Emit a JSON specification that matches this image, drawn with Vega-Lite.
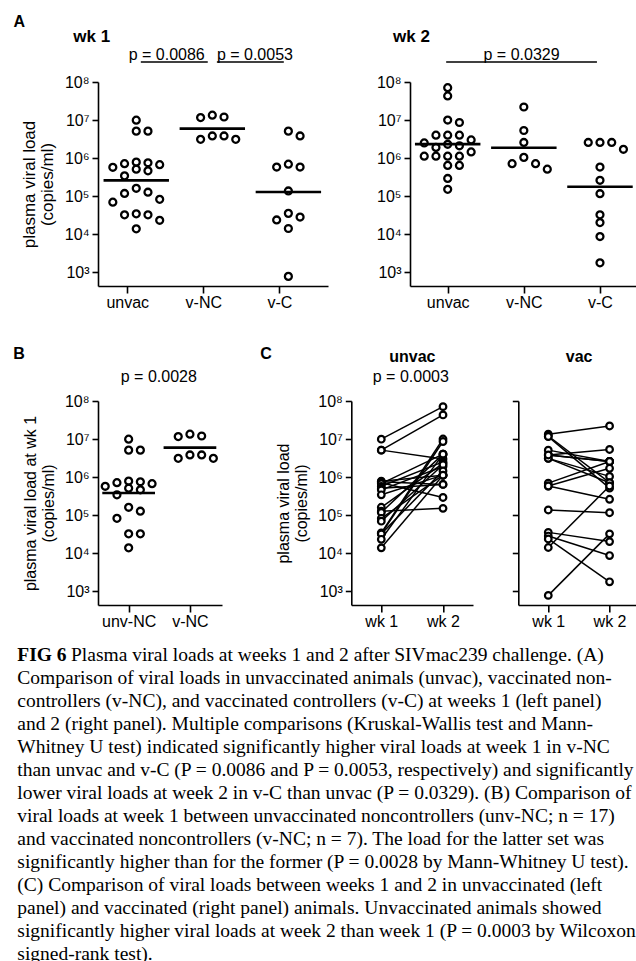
{
  "$schema": "https://vega.github.io/schema/vega-lite/v6.json",
  "padding": {"left": 13, "top": 14, "right": 0, "bottom": 0},
  "background": "white",
  "datasets": {
    "animals": [
      {"id": "u1", "arm": "unvac", "grp": "unvac", "ctrl": "NC", "wk1": 9900000, "wk2": 71000000},
      {"id": "u2", "arm": "unvac", "grp": "unvac", "ctrl": "NC", "wk1": 5100000, "wk2": 43000000},
      {"id": "u3", "arm": "unvac", "grp": "unvac", "ctrl": "NC", "wk1": 5100000, "wk2": 3000000},
      {"id": "u4", "arm": "unvac", "grp": "unvac", "ctrl": "NC", "wk1": 780000, "wk2": 1120000},
      {"id": "u5", "arm": "unvac", "grp": "unvac", "ctrl": "NC", "wk1": 750000, "wk2": 640000},
      {"id": "u6", "arm": "unvac", "grp": "unvac", "ctrl": "NC", "wk1": 710000, "wk2": 290000},
      {"id": "u7", "arm": "unvac", "grp": "unvac", "ctrl": "NC", "wk1": 670000, "wk2": 4000000},
      {"id": "u8", "arm": "unvac", "grp": "unvac", "ctrl": "NC", "wk1": 570000, "wk2": 2500000},
      {"id": "u9", "arm": "unvac", "grp": "unvac", "ctrl": "NC", "wk1": 510000, "wk2": 640000},
      {"id": "u10", "arm": "unvac", "grp": "unvac", "ctrl": "NC", "wk1": 460000, "wk2": 1900000},
      {"id": "u11", "arm": "unvac", "grp": "unvac", "ctrl": "NC", "wk1": 340000, "wk2": 1120000},
      {"id": "u12", "arm": "unvac", "grp": "unvac", "ctrl": "NC", "wk1": 160000, "wk2": 2300000},
      {"id": "u13", "arm": "unvac", "grp": "unvac", "ctrl": "NC", "wk1": 126000, "wk2": 150000},
      {"id": "u14", "arm": "unvac", "grp": "unvac", "ctrl": "C", "wk1": 117000, "wk2": 4000000},
      {"id": "u15", "arm": "unvac", "grp": "unvac", "ctrl": "NC", "wk1": 82000, "wk2": 1120000},
      {"id": "u16", "arm": "unvac", "grp": "unvac", "ctrl": "C", "wk1": 69000, "wk2": 2100000},
      {"id": "u17", "arm": "unvac", "grp": "unvac", "ctrl": "C", "wk1": 34000, "wk2": 10000000},
      {"id": "u18", "arm": "unvac", "grp": "unvac", "ctrl": "NC", "wk1": 32000, "wk2": 8600000},
      {"id": "u19", "arm": "unvac", "grp": "unvac", "ctrl": "NC", "wk1": 32000, "wk2": 1450000},
      {"id": "u20", "arm": "unvac", "grp": "unvac", "ctrl": "C", "wk1": 23000, "wk2": 4000000},
      {"id": "u21", "arm": "unvac", "grp": "unvac", "ctrl": "NC", "wk1": 13700, "wk2": 1120000},
      {"id": "v1", "arm": "vac", "grp": "v-NC", "ctrl": "NC", "wk1": 13400000, "wk2": 22000000},
      {"id": "v2", "arm": "vac", "grp": "v-NC", "ctrl": "NC", "wk1": 12000000, "wk2": 710000},
      {"id": "v3", "arm": "vac", "grp": "v-NC", "ctrl": "NC", "wk1": 11600000, "wk2": 510000},
      {"id": "v4", "arm": "vac", "grp": "v-NC", "ctrl": "NC", "wk1": 3800000, "wk2": 2570000},
      {"id": "v5", "arm": "vac", "grp": "v-NC", "ctrl": "NC", "wk1": 3800000, "wk2": 5300000},
      {"id": "v6", "arm": "vac", "grp": "v-NC", "ctrl": "NC", "wk1": 3100000, "wk2": 1040000},
      {"id": "v7", "arm": "vac", "grp": "v-NC", "ctrl": "NC", "wk1": 3100000, "wk2": 710000},
      {"id": "v8", "arm": "vac", "grp": "v-C", "ctrl": "C", "wk1": 5100000, "wk2": 2570000},
      {"id": "v9", "arm": "vac", "grp": "v-C", "ctrl": "C", "wk1": 3800000, "wk2": 2570000},
      {"id": "v10", "arm": "vac", "grp": "v-C", "ctrl": "C", "wk1": 690000, "wk2": 2570000},
      {"id": "v11", "arm": "vac", "grp": "v-C", "ctrl": "C", "wk1": 580000, "wk2": 1700000},
      {"id": "v12", "arm": "vac", "grp": "v-C", "ctrl": "C", "wk1": 580000, "wk2": 260000},
      {"id": "v13", "arm": "vac", "grp": "v-C", "ctrl": "C", "wk1": 136000, "wk2": 115000},
      {"id": "v14", "arm": "vac", "grp": "v-C", "ctrl": "C", "wk1": 35000, "wk2": 20000},
      {"id": "v15", "arm": "vac", "grp": "v-C", "ctrl": "C", "wk1": 28000, "wk2": 8600},
      {"id": "v16", "arm": "vac", "grp": "v-C", "ctrl": "C", "wk1": 23500, "wk2": 1750},
      {"id": "v17", "arm": "vac", "grp": "v-C", "ctrl": "C", "wk1": 14000, "wk2": 580000},
      {"id": "v18", "arm": "vac", "grp": "v-C", "ctrl": "C", "wk1": 770, "wk2": 32000}
    ],
    "pvals": [
      {"panel": "wk1", "from": "unvac", "to": "v-NC", "p": "p = 0.0086"},
      {"panel": "wk1", "from": "v-NC", "to": "v-C", "p": "p = 0.0053"},
      {"panel": "wk2", "from": "unvac", "to": "v-C", "p": "p = 0.0329"}
    ],
    "headings": [
      {"key": "A", "label": "A"},
      {"key": "wk1", "label": "wk 1"},
      {"key": "wk2", "label": "wk 2"},
      {"key": "B", "label": "B"},
      {"key": "pB", "label": "p = 0.0028"},
      {"key": "C", "label": "C"},
      {"key": "unvac", "label": "unvac"},
      {"key": "pC", "label": "p = 0.0003"},
      {"key": "vac", "label": "vac"}
    ],
    "caption": [
      {"n": 1, "lead": "FIG 6", "t": "Plasma viral loads at weeks 1 and 2 after SIVmac239 challenge. (A)"},
      {"n": 2, "t": "Comparison of viral loads in unvaccinated animals (unvac), vaccinated non-"},
      {"n": 3, "t": "controllers (v-NC), and vaccinated controllers (v-C) at weeks 1 (left panel)"},
      {"n": 4, "t": "and 2 (right panel). Multiple comparisons (Kruskal-Wallis test and Mann-"},
      {"n": 5, "t": "Whitney U test) indicated significantly higher viral loads at week 1 in v-NC"},
      {"n": 6, "t": "than unvac and v-C (P = 0.0086 and P = 0.0053, respectively) and significantly"},
      {"n": 7, "t": "lower viral loads at week 2 in v-C than unvac (P = 0.0329). (B) Comparison of"},
      {"n": 8, "t": "viral loads at week 1 between unvaccinated noncontrollers (unv-NC; n = 17)"},
      {"n": 9, "t": "and vaccinated noncontrollers (v-NC; n = 7). The load for the latter set was"},
      {"n": 10, "t": "significantly higher than for the former (P = 0.0028 by Mann-Whitney U test)."},
      {"n": 11, "t": "(C) Comparison of viral loads between weeks 1 and 2 in unvaccinated (left"},
      {"n": 12, "t": "panel) and vaccinated (right panel) animals. Unvaccinated animals showed"},
      {"n": 13, "t": "significantly higher viral loads at week 2 than week 1 (P = 0.0003 by Wilcoxon"},
      {"n": 14, "t": "signed-rank test)."}
    ]
  },
  "vconcat": [
    {
      "vconcat": [
        {
          "hconcat": [
            {
              "width": 230,
              "height": 204,
              "data": {"name": "animals"},
              "layer": [
                {
                  "transform": [
                    {"calculate": "datum.wk1", "as": "v"},
                    {"calculate": "log(datum.v) / LN10", "as": "lv"},
                    {"calculate": "indexof(['unvac', 'v-NC', 'v-C'], datum.grp)", "as": "gi"},
                    {"window": [{"op": "lag", "field": "lv", "as": "prev"}], "groupby": ["grp"], "sort": [{"field": "lv", "order": "descending"}]},
                    {"calculate": "datum.prev == null || datum.prev - datum.lv > 0.2 ? 1 : 0", "as": "brk"},
                    {"window": [{"op": "sum", "field": "brk", "as": "cl"}], "groupby": ["grp"], "sort": [{"field": "lv", "order": "descending"}], "frame": [null, 0]},
                    {"window": [{"op": "row_number", "as": "k"}], "groupby": ["grp", "cl"], "sort": [{"field": "lv", "order": "descending"}]},
                    {"calculate": "[0, 1, -1, 2, -2][(datum.k - 1) % 5]", "as": "slot"},
                    {"calculate": "datum.gi + 0.154 * datum.slot", "as": "xs"}
                  ],
                  "mark": {"type": "point", "shape": "circle", "filled": false, "stroke": "black", "strokeWidth": 2.3, "size": 48, "opacity": 1},
                  "encoding": {
                    "x": {"field": "xs", "type": "quantitative", "scale": {"domain": [-0.503, 2.521], "nice": false, "zero": false},
                      "axis": {"values": [0, 1, 2], "labelExpr": "['unvac', 'v-NC', 'v-C'][datum.value]", "title": null, "tickOffset": -9}},
                    "y": {"field": "v", "type": "quantitative", "scale": {"type": "log", "domain": [430, 100000000], "nice": false},
                      "axis": {"values": [1000, 10000, 100000, 1000000, 10000000, 100000000], "labelExpr": "'10' + ['⁰','¹','²','³','⁴','⁵','⁶','⁷','⁸'][round(log(datum.value) / LN10)]", "title": ["plasma viral load", "(copies/ml)"], "titleLineHeight": 18, "titlePadding": 8}}
                  }
                },
                {
                  "transform": [
                    {"calculate": "log(datum.wk1) / LN10", "as": "lv"},
                    {"aggregate": [{"op": "mean", "field": "lv", "as": "mlv"}], "groupby": ["grp"]},
                    {"calculate": "pow(10, datum.mlv)", "as": "gm"},
                    {"calculate": "indexof(['unvac', 'v-NC', 'v-C'], datum.grp)", "as": "gi"},
                    {"calculate": "datum.gi - 0.43", "as": "x0"},
                    {"calculate": "datum.gi + 0.43", "as": "x1"}
                  ],
                  "mark": {"type": "rule", "stroke": "black", "strokeWidth": 2.6},
                  "encoding": {
                    "x": {"field": "x0", "type": "quantitative", "scale": {"domain": [-0.503, 2.521], "nice": false, "zero": false}},
                    "x2": {"field": "x1"},
                    "y": {"field": "gm", "type": "quantitative", "scale": {"type": "log", "domain": [430, 100000000], "nice": false}}
                  }
                },
                {
                  "data": {"name": "pvals"},
                  "transform": [
                    {"filter": "datum.panel == 'wk1'"},
                    {"calculate": "indexof(['unvac', 'v-NC', 'v-C'], datum.from) + 0.06", "as": "xa"},
                    {"calculate": "indexof(['unvac', 'v-NC', 'v-C'], datum.to) - 0.06", "as": "xb"}
                  ],
                  "layer": [
                    {
                      "mark": {"type": "rule", "stroke": "black", "strokeWidth": 1.4},
                      "encoding": {
                        "x": {"field": "xa", "type": "quantitative", "scale": {"domain": [-0.503, 2.521], "nice": false, "zero": false}},
                        "x2": {"field": "xb"},
                        "y": {"datum": 336000000, "type": "quantitative", "scale": {"type": "log", "domain": [430, 100000000], "nice": false}}
                      }
                    },
                    {
                      "transform": [{"filter": "datum.from == 'unvac'"}],
                      "mark": {"type": "text", "font": "Liberation Sans", "fontSize": 16, "color": "black", "align": "right", "baseline": "alphabetic", "dy": -2, "dx": -3},
                      "encoding": {
                        "x": {"field": "xb", "type": "quantitative", "scale": {"domain": [-0.503, 2.521], "nice": false, "zero": false}},
                        "y": {"datum": 336000000, "type": "quantitative", "scale": {"type": "log", "domain": [430, 100000000], "nice": false}},
                        "text": {"field": "p"}
                      }
                    },
                    {
                      "transform": [{"filter": "datum.from == 'v-NC'"}],
                      "mark": {"type": "text", "font": "Liberation Sans", "fontSize": 16, "color": "black", "align": "left", "baseline": "alphabetic", "dy": -2},
                      "encoding": {
                        "x": {"field": "xa", "type": "quantitative", "scale": {"domain": [-0.503, 2.521], "nice": false, "zero": false}},
                        "y": {"datum": 336000000, "type": "quantitative", "scale": {"type": "log", "domain": [430, 100000000], "nice": false}},
                        "text": {"field": "p"}
                      }
                    }
                  ]
                },
                {
                  "data": {"name": "headings"},
                  "transform": [{"filter": "datum.key == 'A'"}],
                  "mark": {"type": "text", "font": "Liberation Sans", "fontSize": 16, "fontWeight": "bold", "color": "black", "align": "left", "baseline": "alphabetic"},
                  "encoding": {
                    "x": {"datum": -1.615, "type": "quantitative", "scale": {"domain": [-0.503, 2.521], "nice": false, "zero": false}},
                    "y": {"datum": 2750000000, "type": "quantitative", "scale": {"type": "log", "domain": [430, 100000000], "nice": false}},
                    "text": {"field": "label"}
                  }
                },
                {
                  "data": {"name": "headings"},
                  "transform": [{"filter": "datum.key == 'wk1'"}],
                  "mark": {"type": "text", "font": "Liberation Sans", "fontSize": 17, "fontWeight": "bold", "color": "black", "align": "left", "baseline": "alphabetic"},
                  "encoding": {
                    "x": {"datum": -0.827, "type": "quantitative", "scale": {"domain": [-0.503, 2.521], "nice": false, "zero": false}},
                    "y": {"datum": 1110000000, "type": "quantitative", "scale": {"type": "log", "domain": [430, 100000000], "nice": false}},
                    "text": {"field": "label"}
                  }
                }
              ]
            },
            {
              "width": 226,
              "height": 204,
              "data": {"name": "animals"},
              "layer": [
                {
                  "transform": [
                    {"calculate": "datum.wk2", "as": "v"},
                    {"calculate": "log(datum.v) / LN10", "as": "lv"},
                    {"calculate": "indexof(['unvac', 'v-NC', 'v-C'], datum.grp)", "as": "gi"},
                    {"window": [{"op": "lag", "field": "lv", "as": "prev"}], "groupby": ["grp"], "sort": [{"field": "lv", "order": "descending"}]},
                    {"calculate": "datum.prev == null || datum.prev - datum.lv > 0.2 ? 1 : 0", "as": "brk"},
                    {"window": [{"op": "sum", "field": "brk", "as": "cl"}], "groupby": ["grp"], "sort": [{"field": "lv", "order": "descending"}], "frame": [null, 0]},
                    {"window": [{"op": "row_number", "as": "k"}], "groupby": ["grp", "cl"], "sort": [{"field": "lv", "order": "descending"}]},
                    {"calculate": "[0, 1, -1, 2, -2][(datum.k - 1) % 5]", "as": "slot"},
                    {"calculate": "datum.gi + 0.154 * datum.slot", "as": "xs"}
                  ],
                  "mark": {"type": "point", "shape": "circle", "filled": false, "stroke": "black", "strokeWidth": 2.3, "size": 48, "opacity": 1},
                  "encoding": {
                    "x": {"field": "xs", "type": "quantitative", "scale": {"domain": [-0.495, 2.473], "nice": false, "zero": false},
                      "axis": {"values": [0, 1, 2], "labelExpr": "['unvac', 'v-NC', 'v-C'][datum.value]", "title": null}},
                    "y": {"field": "v", "type": "quantitative", "scale": {"type": "log", "domain": [430, 100000000], "nice": false},
                      "axis": {"values": [1000, 10000, 100000, 1000000, 10000000, 100000000], "labelExpr": "'10' + ['⁰','¹','²','³','⁴','⁵','⁶','⁷','⁸'][round(log(datum.value) / LN10)]", "title": null}}
                  }
                },
                {
                  "transform": [
                    {"calculate": "log(datum.wk2) / LN10", "as": "lv"},
                    {"aggregate": [{"op": "mean", "field": "lv", "as": "mlv"}], "groupby": ["grp"]},
                    {"calculate": "pow(10, datum.mlv)", "as": "gm"},
                    {"calculate": "indexof(['unvac', 'v-NC', 'v-C'], datum.grp)", "as": "gi"},
                    {"calculate": "datum.gi - 0.43", "as": "x0"},
                    {"calculate": "datum.gi + 0.43", "as": "x1"}
                  ],
                  "mark": {"type": "rule", "stroke": "black", "strokeWidth": 2.6},
                  "encoding": {
                    "x": {"field": "x0", "type": "quantitative", "scale": {"domain": [-0.495, 2.473], "nice": false, "zero": false}},
                    "x2": {"field": "x1"},
                    "y": {"field": "gm", "type": "quantitative", "scale": {"type": "log", "domain": [430, 100000000], "nice": false}}
                  }
                },
                {
                  "data": {"name": "pvals"},
                  "transform": [
                    {"filter": "datum.panel == 'wk2'"},
                    {"calculate": "indexof(['unvac', 'v-NC', 'v-C'], datum.from) - 0.02", "as": "xa"},
                    {"calculate": "indexof(['unvac', 'v-NC', 'v-C'], datum.to) - 0.04", "as": "xb"},
                    {"calculate": "(datum.xa + datum.xb) / 2", "as": "xm"}
                  ],
                  "layer": [
                    {
                      "mark": {"type": "rule", "stroke": "black", "strokeWidth": 1.4},
                      "encoding": {
                        "x": {"field": "xa", "type": "quantitative", "scale": {"domain": [-0.495, 2.473], "nice": false, "zero": false}},
                        "x2": {"field": "xb"},
                        "y": {"datum": 336000000, "type": "quantitative", "scale": {"type": "log", "domain": [430, 100000000], "nice": false}}
                      }
                    },
                    {
                      "mark": {"type": "text", "font": "Liberation Sans", "fontSize": 16, "color": "black", "align": "center", "baseline": "alphabetic", "dy": -2},
                      "encoding": {
                        "x": {"field": "xm", "type": "quantitative", "scale": {"domain": [-0.495, 2.473], "nice": false, "zero": false}},
                        "y": {"datum": 336000000, "type": "quantitative", "scale": {"type": "log", "domain": [430, 100000000], "nice": false}},
                        "text": {"field": "p"}
                      }
                    }
                  ]
                },
                {
                  "data": {"name": "headings"},
                  "transform": [{"filter": "datum.key == 'wk2'"}],
                  "mark": {"type": "text", "font": "Liberation Sans", "fontSize": 17, "fontWeight": "bold", "color": "black", "align": "left", "baseline": "alphabetic"},
                  "encoding": {
                    "x": {"datum": -0.718, "type": "quantitative", "scale": {"domain": [-0.495, 2.473], "nice": false, "zero": false}},
                    "y": {"datum": 1110000000, "type": "quantitative", "scale": {"type": "log", "domain": [430, 100000000], "nice": false}},
                    "text": {"field": "label"}
                  }
                }
              ]
            }
          ],
          "spacing": 82,
          "bounds": "flush"
        },
        {
          "hconcat": [
            {
              "width": 124,
              "height": 204,
              "data": {"name": "animals"},
              "transform": [{"filter": "datum.ctrl == 'NC'"}],
              "layer": [
                {
                  "transform": [
                    {"calculate": "datum.wk1", "as": "v"},
                    {"calculate": "log(datum.v) / LN10", "as": "lv"},
                    {"calculate": "datum.arm == 'unvac' ? 0 : 1", "as": "gi"},
                    {"window": [{"op": "lag", "field": "lv", "as": "prev"}], "groupby": ["arm"], "sort": [{"field": "lv", "order": "descending"}]},
                    {"calculate": "datum.prev == null || datum.prev - datum.lv > 0.2 ? 1 : 0", "as": "brk"},
                    {"window": [{"op": "sum", "field": "brk", "as": "cl"}], "groupby": ["arm"], "sort": [{"field": "lv", "order": "descending"}], "frame": [null, 0]},
                    {"window": [{"op": "row_number", "as": "k"}], "groupby": ["arm", "cl"], "sort": [{"field": "lv", "order": "descending"}]},
                    {"calculate": "[0, 1, -1, 2, -2][(datum.k - 1) % 5]", "as": "slot"},
                    {"calculate": "datum.gi + 0.191 * datum.slot", "as": "xs"}
                  ],
                  "mark": {"type": "point", "shape": "circle", "filled": false, "stroke": "black", "strokeWidth": 2.3, "size": 48, "opacity": 1},
                  "encoding": {
                    "x": {"field": "xs", "type": "quantitative", "scale": {"domain": [-0.5, 1.523], "nice": false, "zero": false},
                      "axis": {"values": [0, 1], "labelExpr": "['unv-NC', 'v-NC'][datum.value]", "title": null}},
                    "y": {"field": "v", "type": "quantitative", "scale": {"type": "log", "domain": [430, 100000000], "nice": false},
                      "axis": {"values": [1000, 10000, 100000, 1000000, 10000000, 100000000], "labelExpr": "'10' + ['⁰','¹','²','³','⁴','⁵','⁶','⁷','⁸'][round(log(datum.value) / LN10)]", "title": ["plasma viral load at wk 1", "(copies/ml)"], "titleFontSize": 16, "titleLineHeight": 18, "titlePadding": 8}}
                  }
                },
                {
                  "transform": [
                    {"calculate": "log(datum.wk1) / LN10", "as": "lv"},
                    {"aggregate": [{"op": "mean", "field": "lv", "as": "mlv"}], "groupby": ["arm"]},
                    {"calculate": "pow(10, datum.mlv)", "as": "gm"},
                    {"calculate": "datum.arm == 'unvac' ? 0 : 1", "as": "gi"},
                    {"calculate": "datum.gi - 0.43", "as": "x0"},
                    {"calculate": "datum.gi + 0.43", "as": "x1"}
                  ],
                  "mark": {"type": "rule", "stroke": "black", "strokeWidth": 2.6},
                  "encoding": {
                    "x": {"field": "x0", "type": "quantitative", "scale": {"domain": [-0.5, 1.523], "nice": false, "zero": false}},
                    "x2": {"field": "x1"},
                    "y": {"field": "gm", "type": "quantitative", "scale": {"type": "log", "domain": [430, 100000000], "nice": false}}
                  }
                },
                {
                  "data": {"name": "headings"},
                  "transform": [{"filter": "datum.key == 'B'"}],
                  "mark": {"type": "text", "font": "Liberation Sans", "fontSize": 16, "fontWeight": "bold", "color": "black", "align": "left", "baseline": "alphabetic"},
                  "encoding": {
                    "x": {"datum": -1.882, "type": "quantitative", "scale": {"domain": [-0.5, 1.523], "nice": false, "zero": false}},
                    "y": {"datum": 1310000000, "type": "quantitative", "scale": {"type": "log", "domain": [430, 100000000], "nice": false}},
                    "text": {"field": "label"}
                  }
                },
                {
                  "data": {"name": "headings"},
                  "transform": [{"filter": "datum.key == 'pB'"}],
                  "mark": {"type": "text", "font": "Liberation Sans", "fontSize": 16, "color": "black", "align": "center", "baseline": "alphabetic"},
                  "encoding": {
                    "x": {"datum": 0.492, "type": "quantitative", "scale": {"domain": [-0.5, 1.523], "nice": false, "zero": false}},
                    "y": {"datum": 307000000, "type": "quantitative", "scale": {"type": "log", "domain": [430, 100000000], "nice": false}},
                    "text": {"field": "label"}
                  }
                }
              ]
            },
            {
              "hconcat": [
                {
                  "width": 121.7,
                  "height": 204,
                  "data": {"name": "animals"},
                  "transform": [
                    {"filter": "datum.arm == 'unvac'"},
                    {"fold": ["wk1", "wk2"], "as": ["week", "v"]},
                    {"calculate": "datum.week == 'wk1' ? 1 : 2", "as": "wk"}
                  ],
                  "layer": [
                    {
                      "mark": {"type": "line", "stroke": "black", "strokeWidth": 1.5},
                      "encoding": {
                        "x": {"field": "wk", "type": "quantitative", "scale": {"domain": [0.514, 2.486], "nice": false, "zero": false},
                          "axis": {"values": [1, 2], "labelExpr": "'wk ' + datum.value", "title": null}},
                        "y": {"field": "v", "type": "quantitative", "scale": {"type": "log", "domain": [430, 100000000], "nice": false},
                          "axis": {"values": [1000, 10000, 100000, 1000000, 10000000, 100000000], "labelExpr": "'10' + ['⁰','¹','²','³','⁴','⁵','⁶','⁷','⁸'][round(log(datum.value) / LN10)]", "title": ["plasma viral load", "(copies/ml)"], "titleFontSize": 16, "titleLineHeight": 18, "titlePadding": 8}},
                        "detail": {"field": "id"}
                      }
                    },
                    {
                      "mark": {"type": "point", "shape": "circle", "filled": true, "fill": "white", "stroke": "black", "strokeWidth": 2.2, "size": 44, "opacity": 1},
                      "encoding": {
                        "x": {"field": "wk", "type": "quantitative", "scale": {"domain": [0.514, 2.486], "nice": false, "zero": false}},
                        "y": {"field": "v", "type": "quantitative", "scale": {"type": "log", "domain": [430, 100000000], "nice": false}}
                      }
                    },
                    {
                      "data": {"name": "headings"},
                      "transform": [{"filter": "datum.key == 'C'"}],
                      "mark": {"type": "text", "font": "Liberation Sans", "fontSize": 16, "fontWeight": "bold", "color": "black", "align": "left", "baseline": "alphabetic"},
                      "encoding": {
                        "x": {"datum": -0.961, "type": "quantitative", "scale": {"domain": [0.514, 2.486], "nice": false, "zero": false}},
                        "y": {"datum": 1310000000, "type": "quantitative", "scale": {"type": "log", "domain": [430, 100000000], "nice": false}},
                        "text": {"field": "label"}
                      }
                    },
                    {
                      "data": {"name": "headings"},
                      "transform": [{"filter": "datum.key == 'unvac'"}],
                      "mark": {"type": "text", "font": "Liberation Sans", "fontSize": 16, "fontWeight": "bold", "color": "black", "align": "center", "baseline": "alphabetic"},
                      "encoding": {
                        "x": {"datum": 1.503, "type": "quantitative", "scale": {"domain": [0.514, 2.486], "nice": false, "zero": false}},
                        "y": {"datum": 1030000000, "type": "quantitative", "scale": {"type": "log", "domain": [430, 100000000], "nice": false}},
                        "text": {"field": "label"}
                      }
                    },
                    {
                      "data": {"name": "headings"},
                      "transform": [{"filter": "datum.key == 'pC'"}],
                      "mark": {"type": "text", "font": "Liberation Sans", "fontSize": 16, "color": "black", "align": "center", "baseline": "alphabetic"},
                      "encoding": {
                        "x": {"datum": 1.478, "type": "quantitative", "scale": {"domain": [0.514, 2.486], "nice": false, "zero": false}},
                        "y": {"datum": 307000000, "type": "quantitative", "scale": {"type": "log", "domain": [430, 100000000], "nice": false}},
                        "text": {"field": "label"}
                      }
                    }
                  ]
                },
                {
                  "width": 118.3,
                  "height": 204,
                  "data": {"name": "animals"},
                  "transform": [
                    {"filter": "datum.arm == 'vac'"},
                    {"fold": ["wk1", "wk2"], "as": ["week", "v"]},
                    {"calculate": "datum.week == 'wk1' ? 1 : 2", "as": "wk"}
                  ],
                  "layer": [
                    {
                      "mark": {"type": "line", "stroke": "black", "strokeWidth": 1.5},
                      "encoding": {
                        "x": {"field": "wk", "type": "quantitative", "scale": {"domain": [0.511, 2.441], "nice": false, "zero": false},
                          "axis": {"values": [1, 2], "labelExpr": "'wk ' + datum.value", "title": null}},
                        "y": {"field": "v", "type": "quantitative", "scale": {"type": "log", "domain": [430, 100000000], "nice": false},
                          "axis": {"values": [1000, 10000, 100000, 1000000, 10000000, 100000000], "labels": false, "title": null}},
                        "detail": {"field": "id"}
                      }
                    },
                    {
                      "mark": {"type": "point", "shape": "circle", "filled": true, "fill": "white", "stroke": "black", "strokeWidth": 2.2, "size": 44, "opacity": 1},
                      "encoding": {
                        "x": {"field": "wk", "type": "quantitative", "scale": {"domain": [0.511, 2.441], "nice": false, "zero": false}},
                        "y": {"field": "v", "type": "quantitative", "scale": {"type": "log", "domain": [430, 100000000], "nice": false}}
                      }
                    },
                    {
                      "data": {"name": "headings"},
                      "transform": [{"filter": "datum.key == 'vac'"}],
                      "mark": {"type": "text", "font": "Liberation Sans", "fontSize": 16, "fontWeight": "bold", "color": "black", "align": "center", "baseline": "alphabetic"},
                      "encoding": {
                        "x": {"datum": 1.503, "type": "quantitative", "scale": {"domain": [0.511, 2.441], "nice": false, "zero": false}},
                        "y": {"datum": 1030000000, "type": "quantitative", "scale": {"type": "log", "domain": [430, 100000000], "nice": false}},
                        "text": {"field": "label"}
                      }
                    }
                  ]
                }
              ],
              "spacing": 45,
              "bounds": "flush"
            }
          ],
          "spacing": 129.3,
          "bounds": "flush"
        }
      ],
      "spacing": 35
    },
    {
      "width": 600,
      "height": 299,
      "data": {"name": "caption"},
      "layer": [
        {
          "transform": [{"filter": "datum.n > 1"}],
          "mark": {"type": "text", "font": "Liberation Serif", "fontSize": 19.5, "color": "black", "align": "left", "baseline": "alphabetic", "dx": -80.7},
          "encoding": {
            "x": {"datum": 0, "type": "quantitative", "scale": {"domain": [0, 1], "nice": false, "zero": false}, "axis": null},
            "y": {"field": "n", "type": "quantitative", "scale": {"domain": [1, 14], "reverse": true, "nice": false, "zero": false}, "axis": null},
            "text": {"field": "t"}
          }
        },
        {
          "transform": [{"filter": "datum.n == 1"}],
          "mark": {"type": "text", "font": "Liberation Serif", "fontSize": 19.5, "color": "black", "align": "left", "baseline": "alphabetic", "dx": -27},
          "encoding": {
            "x": {"datum": 0, "type": "quantitative", "scale": {"domain": [0, 1], "nice": false, "zero": false}, "axis": null},
            "y": {"field": "n", "type": "quantitative", "scale": {"domain": [1, 14], "reverse": true, "nice": false, "zero": false}, "axis": null},
            "text": {"field": "t"}
          }
        },
        {
          "transform": [{"filter": "datum.n == 1"}],
          "mark": {"type": "text", "font": "Liberation Serif", "fontSize": 19.5, "fontWeight": "bold", "color": "black", "align": "left", "baseline": "alphabetic", "dx": -80.7},
          "encoding": {
            "x": {"datum": 0, "type": "quantitative", "scale": {"domain": [0, 1], "nice": false, "zero": false}, "axis": null},
            "y": {"field": "n", "type": "quantitative", "scale": {"domain": [1, 14], "reverse": true, "nice": false, "zero": false}, "axis": null},
            "text": {"field": "lead"}
          }
        }
      ]
    }
  ],
  "spacing": 15.5,
  "config": {
    "view": {"stroke": null},
    "font": "Liberation Sans",
    "axis": {
      "domainColor": "black", "domainWidth": 1.6, "tickColor": "black", "tickWidth": 1.6,
      "labelColor": "black", "labelFont": "Liberation Sans", "labelFontSize": 16,
      "titleColor": "black", "titleFont": "Liberation Sans", "titleFontSize": 17, "titleFontWeight": "normal",
      "grid": false, "labelFlush": false, "labelOverlap": false
    },
    "axisX": {"tickSize": 7, "labelPadding": 1},
    "axisY": {"tickSize": 6, "labelPadding": 3}
  }
}
